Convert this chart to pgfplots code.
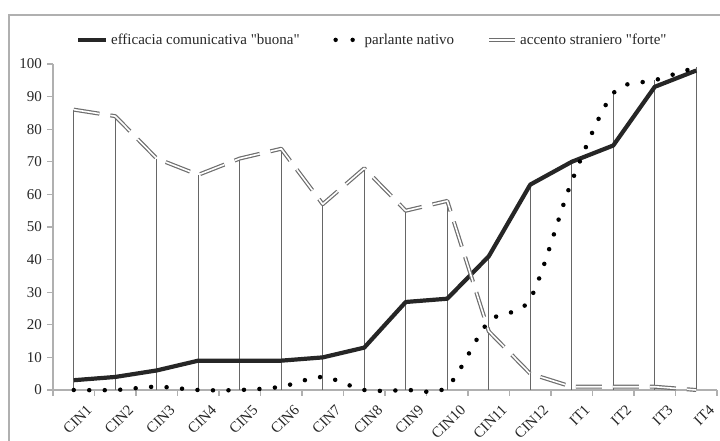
\documentclass[border=0pt]{standalone}
\usepackage{pgfplots}
\pgfplotsset{compat=1.18}
\usepackage{fontspec}
\setmainfont{Liberation Serif}

\definecolor{dropgray}{HTML}{666666}
\definecolor{axisgray}{HTML}{B0B0B0}
\definecolor{dblgray}{HTML}{6E6E6E}

% x: 1 = CIN1 ... 12 = CIN12, 13 = IT1 ... 16 = IT4
\pgfplotstableread{
x  buona nativo forte
1  3     0      86
2  4     0      84
3  6     1      71
4  9     0      66
5  9     0      71
6  9     1      74
7  10    4      57
8  13    0      68
9  27    0      55
10 28    1      58
11 41    21     18
12 63    28     5
13 70    64     1
14 75    91     1
15 93    95     1
16 98    99     0
}\datatable

\newcommand{\chartfont}{\fontsize{15}{17}\selectfont}

\begin{document}
\begin{tikzpicture}
\useasboundingbox (0,0) rectangle (720pt,441pt);
\clip (0,0) rectangle (720pt,441pt);
% outer chart frame (cut off at the right and bottom)
\draw[axisgray, line width=1.2pt] (9pt,426pt) rectangle (780pt,-40pt);

\begin{axis}[
    at={(53pt,51pt)}, anchor=south west,
    scale only axis,
    width=664pt, height=326pt,
    xmin=0.5, xmax=16.5,
    ymin=0, ymax=100,
    axis x line*=bottom, axis y line*=left,
    axis line style={-, axisgray, line width=1.3pt},
    xtick={1,...,16},
    xticklabels={CIN1,CIN2,CIN3,CIN4,CIN5,CIN6,CIN7,CIN8,CIN9,CIN10,CIN11,CIN12,IT1,IT2,IT3,IT4},
    major x tick style={draw=none},
    minor xtick={0.5,1.5,...,16.5},
    minor x tick style={axisgray, line width=1.2pt},
    minor tick length=6pt,
    ytick={0,10,...,100},
    y tick style={axisgray, line width=1.2pt},
    major tick length=6pt,
    tick align=outside,
    /pgf/number format/assume math mode=true,
    tick label style={font=\chartfont, black!85},
    xticklabel style={rotate=45, anchor=north east, inner sep=0pt, xshift=3pt, yshift=-14pt},
    yticklabel style={inner sep=2pt, xshift=-3pt},
    legend columns=3,
    legend style={at={(0.480,1.074)}, anchor=center, draw=none, fill=none,
        font=\chartfont, text=black!85, nodes={inner sep=1pt},
        /tikz/every even column/.append style={column sep=32pt},
        /tikz/every odd column/.append style={column sep=2pt}},
    clip=false,
]
% drop lines
\addplot[ycomb, dropgray, line width=1.4pt, forget plot] table[x=x, y=forte] {\datatable};
\addplot[ycomb, dropgray, line width=1.4pt, forget plot] table[x=x, y=buona] {\datatable};
\addplot[ycomb, dropgray, line width=1.4pt, forget plot] table[x=x, y=nativo] {\datatable};

% series
\addplot[black!85, line width=4.2pt, line join=round,
    legend image code/.code={\draw[black!85, line width=4.2pt] (0pt,0pt) -- (28pt,0pt);}]
    table[x=x, y=buona] {\datatable};
\addlegendentry{efficacia comunicativa \textquotedbl buona\textquotedbl}

\addplot[black, smooth, line width=4.5pt, line cap=round, dash pattern=on 0pt off 15.5pt,
    legend image code/.code={\path[draw=none, fill=none] (0pt,0pt) -- (29pt,0pt);
        \fill[black, draw=none] (3pt,0pt) circle (2.2pt);
        \fill[black, draw=none] (20pt,0pt) circle (2.2pt);}]
    table[x=x, y=nativo] {\datatable};
\addlegendentry{parlante nativo}

\addplot[dblgray, line width=1.2pt, double=white, double distance=1.6pt,
    dash pattern=on 26pt off 11pt, line join=round,
    legend image code/.code={\draw[dblgray, solid, line width=1.2pt, double=white, double distance=1.6pt] (0pt,0pt) -- (26pt,0pt);}]
    table[x=x, y=forte] {\datatable};
\addlegendentry{accento straniero \textquotedbl forte\textquotedbl}
\end{axis}
\end{tikzpicture}
\end{document}
